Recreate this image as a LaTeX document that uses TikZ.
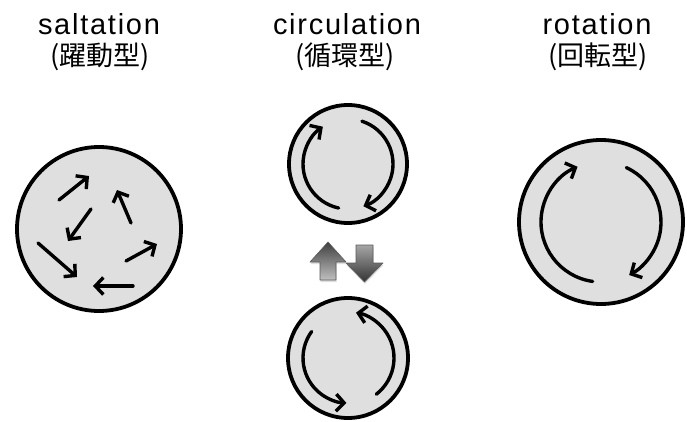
\documentclass[tikz,border=0pt]{standalone}
\usepackage{fontspec}
\setmainfont{Liberation Sans}
\newfontfamily\latinfont[LetterSpace=6]{Liberation Sans}
\newfontfamily\jpfont{Noto Sans CJK JP}
\usetikzlibrary{arrows.meta,shadows}

\tikzset{
  disc/.style={circle, draw=black, line width=3.8pt, fill=gray!25, inner sep=0pt},
  barb/.style={line width=3.4pt, line cap=round, -{Straight Barb[length=8pt,width=17pt]}},
  title/.style={font=\latinfont\fontsize{29}{34}\selectfont, anchor=base, inner sep=0pt},
  subtitle/.style={font=\jpfont\fontsize{27}{32}\selectfont, anchor=base, inner sep=0pt},
  blockarrow/.style={draw=black!65, line width=0.6pt, line join=round,
    drop shadow={opacity=0.25, shadow xshift=0.5pt, shadow yshift=-2pt}}
}

\begin{document}
\begin{tikzpicture}[x=1pt,y=1pt]
  \fill[white] (0,0) rectangle (687,421);
  \useasboundingbox (0,0) rectangle (687,421);

  % headings
  \node[title]    (t1) at (99,386)  {saltation};
  \node[subtitle] (j1) at (100,355) {(躍動型)};
  \node[title]    (t2) at (347,386) {circulation};
  \node[subtitle] (j2) at (345,355) {(循環型)};
  \node[title]    (t3) at (597,386) {rotation};
  \node[subtitle] (j3) at (598,355) {(回転型)};

  % saltation: short independent jumps
  \node[disc, minimum size=164pt] (salt) at (99,192) {};
  \draw[barb] (59,221) -- (89,245);
  \draw[barb] (91,212) -- (68,180);
  \draw[barb] (131,198) -- (117,231);
  \draw[barb] (38,178) -- (77,144);
  \draw[barb] (126,160) -- (157,177);
  \draw[barb] (133,135) -- (93,135);

  % rotation: one steady clockwise turn
  \node[disc, minimum size=164pt] (rot) at (601,199) {};
  \begin{scope}[shift={(rot.center)}]
    \draw[barb] (262:60) arc[start angle=262, end angle=113, radius=60];
    \draw[barb] (65:60) arc[start angle=65, end angle=-62, radius=60];
  \end{scope}

  % circulation: clockwise above, counter-clockwise below
  \node[disc, minimum size=118pt] (circA) at (348,257) {};
  \begin{scope}[shift={(circA.center)}]
    \draw[barb] (258:45) arc[start angle=258, end angle=124, radius=45];
    \draw[barb] (72:45) arc[start angle=72, end angle=-70, radius=45];
  \end{scope}

  \node[disc, minimum size=120pt] (circB) at (348,63) {};
  \begin{scope}[shift={(circB.center)}]
    \draw[barb] (144:45) arc[start angle=144, end angle=268, radius=45];
    \draw[barb] (-52:46) arc[start angle=-52, end angle=80, radius=46];
  \end{scope}

  % switching between the two directions
  \draw[blockarrow, top color=black!75, bottom color=black!25]
    (320,141) -- (320,159) -- (310,159) -- (328,179) -- (346,159)
    -- (336,159) -- (336,141) -- cycle;
  \draw[blockarrow, top color=black!35, bottom color=black!80]
    (356,176) -- (373,176) -- (373,158) -- (383,158) -- (364.5,139)
    -- (346,158) -- (356,158) -- cycle;
\end{tikzpicture}
\end{document}
